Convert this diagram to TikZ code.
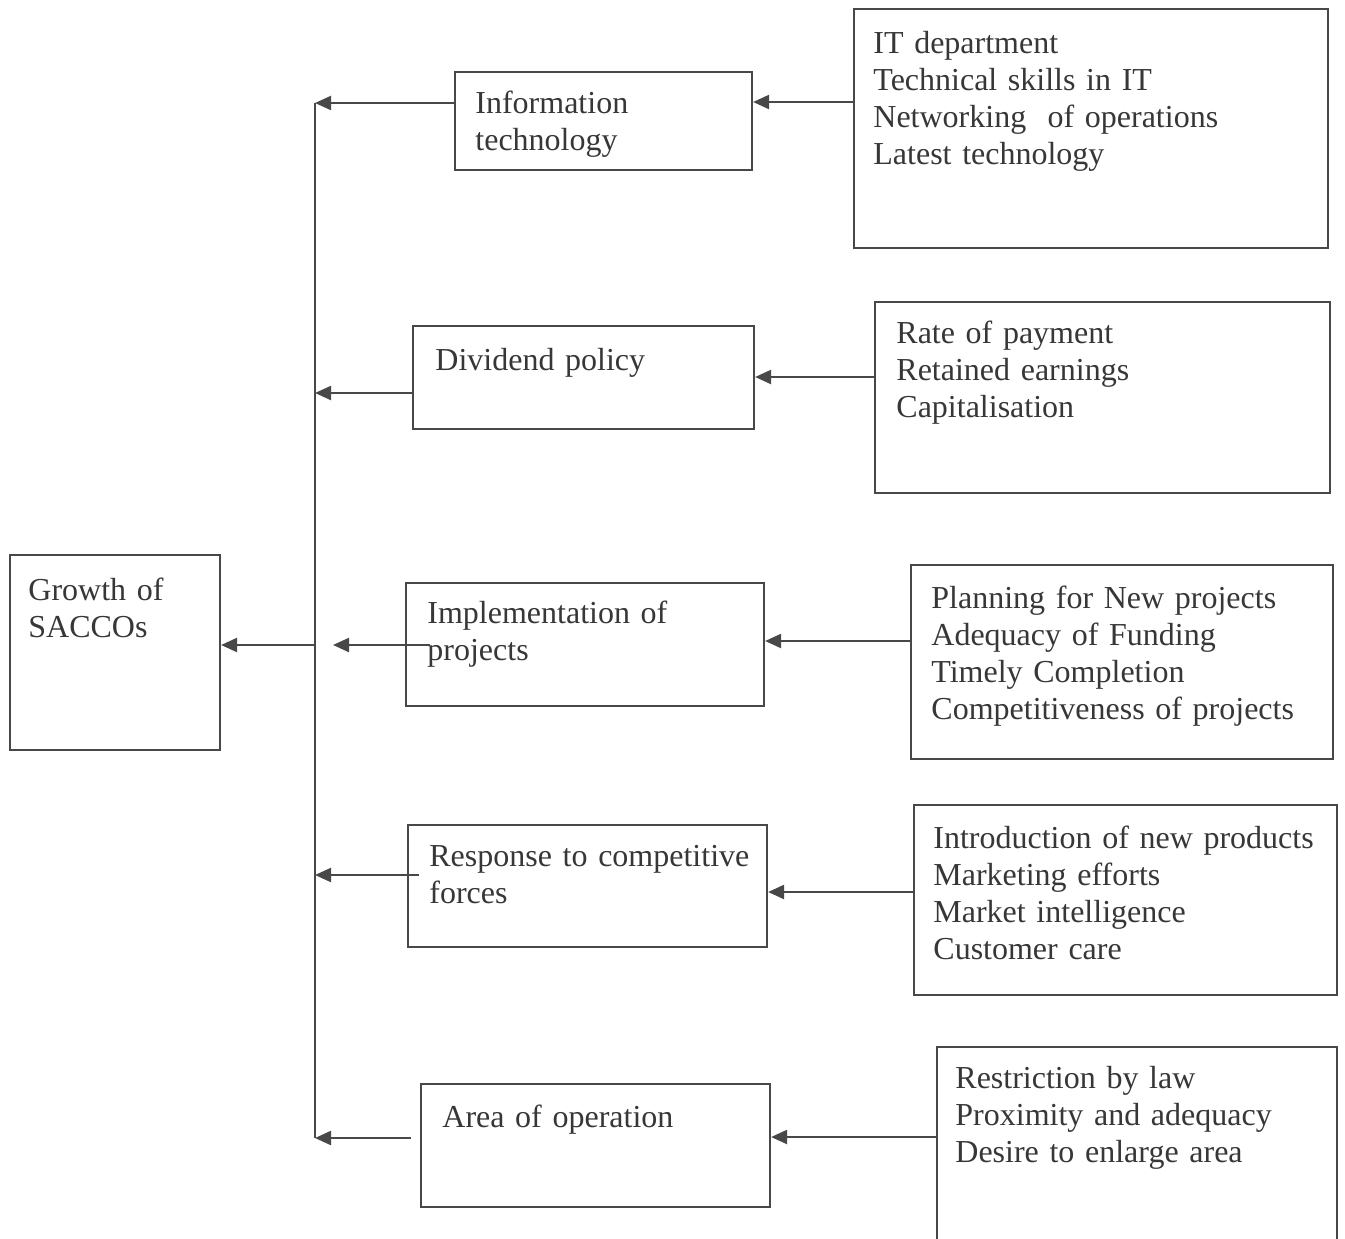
\documentclass[tikz,border=0pt]{standalone}
\usepackage{fontspec}
\setmainfont{Liberation Serif}
\usetikzlibrary{arrows.meta,fit}
\definecolor{ink}{RGB}{55,55,55}
\definecolor{linec}{RGB}{72,72,72}
\tikzset{
  box/.style={draw=linec, line width=1.1pt, inner sep=0pt, fill=none},
  txt/.style={anchor=base west, inner sep=0pt, text width=320pt, align=left, text=ink,
              font=\fontsize{16pt}{18.5pt}\selectfont},
  conn/.style={draw=linec, line width=1.1pt},
  arr/.style={conn, -{Triangle[length=8pt,width=7pt]}}
}
\begin{document}
\begin{tikzpicture}[x=0.5pt,y=-0.5pt]
\clip (0,0) rectangle (1345,1238);
\fill[white] (0,0) rectangle (1345,1238);

% boxes
\node[box, fit={(10,555) (220,750)}] (growth) {};
\node[box, fit={(455,72) (752,170)}] (it) {};
\node[box, fit={(854,9) (1328,248)}] (itd) {};
\node[box, fit={(413,326) (754,429)}] (div) {};
\node[box, fit={(875,302) (1330,493)}] (divd) {};
\node[box, fit={(406,583) (764,706)}] (impl) {};
\node[box, fit={(911,565) (1333,759)}] (impld) {};
\node[box, fit={(408,825) (767,947)}] (resp) {};
\node[box, fit={(914,805) (1337,995)}] (respd) {};
\node[box, fit={(421,1084) (770,1207)}] (area) {};
\node[box, fit={(937,1047) (1337,1260)}] (aread) {};

% texts
\node[txt] (tgrowth) at (28,600) {Growth of\\SACCOs};
\node[txt] (tit) at (475,113) {Information\\technology};
\node[txt] (titd) at (873,53) {IT department\\Technical skills in IT\\Networking~ of operations\\Latest technology};
\node[txt] (tdiv) at (435,370) {Dividend policy};
\node[txt] (tdivd) at (896,343) {Rate of payment\\Retained earnings\\Capitalisation};
\node[txt] (timpl) at (427,623) {Implementation of\\projects};
\node[txt] (timpld) at (931,608) {Planning for New projects\\Adequacy of Funding\\Timely Completion\\Competitiveness of projects};
\node[txt] (tresp) at (429,866) {Response to competitive\\forces};
\node[txt] (trespd) at (933,848) {Introduction of new products\\Marketing efforts\\Market intelligence\\Customer care};
\node[txt] (tarea) at (442,1127) {Area of operation};
\node[txt] (taread) at (955,1088) {Restriction by law\\Proximity and adequacy\\Desire to enlarge area};

% collector line
\coordinate (vtop) at (315,103);
\coordinate (vbot) at (315,1138);
\draw[conn] (vtop) -- (vbot);

% arrows into the collector line
\draw[arr] (it.west |- vtop) -- (vtop);
\coordinate (j2) at (315,393);
\draw[arr] (div.west |- j2) -- (j2);
\coordinate (s3) at (430,645);
\coordinate (j3) at (333,645);
\draw[arr] (s3) -- (j3);
\coordinate (s4) at (419,875);
\coordinate (j4) at (315,875);
\draw[arr] (s4) -- (j4);
\coordinate (s5) at (411,1138);
\draw[arr] (s5) -- (vbot);

% main arrow
\coordinate (jm) at (315,645);
\draw[arr] (jm) -- (growth.east |- jm);

% arrows from detail boxes
\coordinate (r1) at (0,102);
\draw[arr] (itd.west |- r1) -- (it.east |- r1);
\coordinate (r2) at (0,377);
\draw[arr] (divd.west |- r2) -- (div.east |- r2);
\coordinate (r3) at (0,641);
\draw[arr] (impld.west |- r3) -- (impl.east |- r3);
\coordinate (r4) at (0,892);
\draw[arr] (respd.west |- r4) -- (resp.east |- r4);
\coordinate (r5) at (0,1137);
\draw[arr] (aread.west |- r5) -- (area.east |- r5);
\end{tikzpicture}
\end{document}
